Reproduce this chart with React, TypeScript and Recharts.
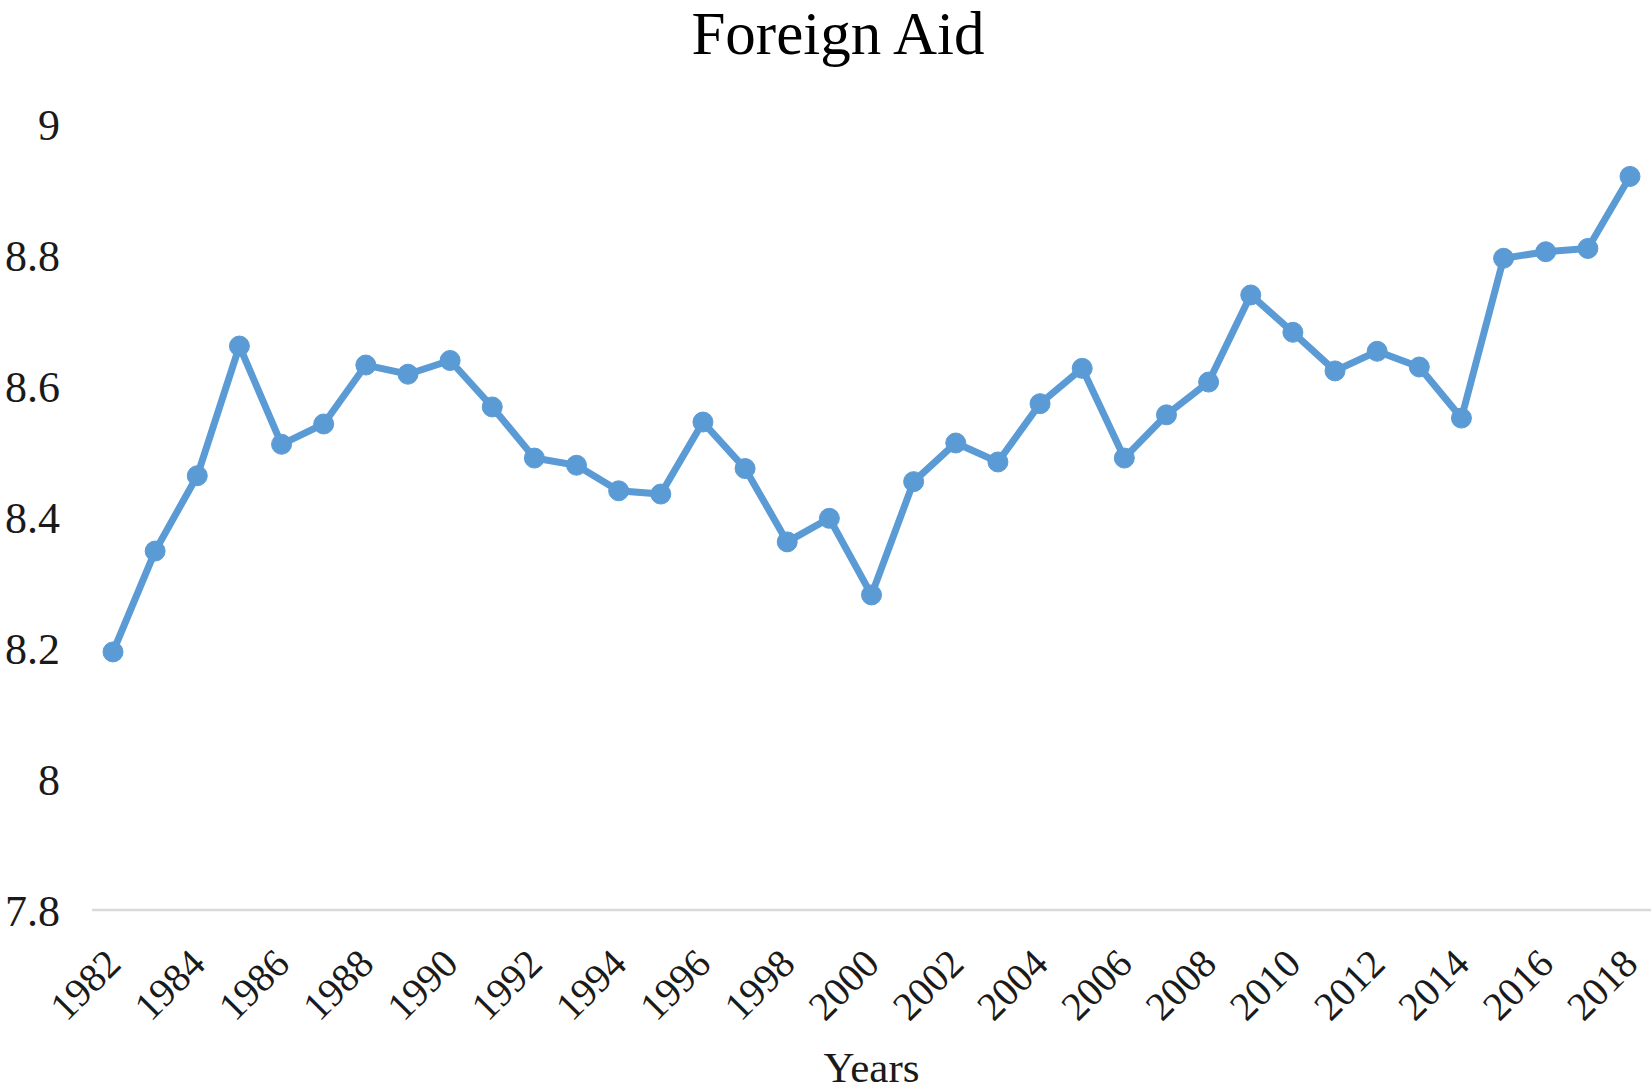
import { LineChart, Line, XAxis, YAxis, Label } from "recharts";

const years = [
  "1982", "1983", "1984", "1985", "1986", "1987", "1988", "1989", "1990", "1991",
  "1992", "1993", "1994", "1995", "1996", "1997", "1998", "1999", "2000", "2001",
  "2002", "2003", "2004", "2005", "2006", "2007", "2008", "2009", "2010", "2011",
  "2012", "2013", "2014", "2015", "2016", "2017", "2018",
];

const foreignAid = [
  8.194, 8.348, 8.463, 8.661, 8.511, 8.542, 8.632, 8.618, 8.639, 8.568,
  8.49, 8.479, 8.44, 8.435, 8.545, 8.474, 8.362, 8.398, 8.281, 8.454,
  8.513, 8.484, 8.573, 8.627, 8.49, 8.556, 8.606, 8.739, 8.682, 8.623,
  8.653, 8.629, 8.551, 8.795, 8.805, 8.81, 8.92,
];

const yTicks = [7.8, 8, 8.2, 8.4, 8.6, 8.8, 9];

const data = years.map((year, i) => ({ year, aid: foreignAid[i] }));

const serif = '"Liberation Serif", "Times New Roman", serif';

const YearTick = (props: any) => {
  const { x, y, payload } = props;
  const ax = x + 10;
  const ay = y + 56;
  return (
    <text
      x={ax}
      y={ay}
      transform={`rotate(-45 ${ax} ${ay})`}
      textAnchor="end"
      fontFamily={serif}
      fontSize={40}
      fill="#1a1a1a"
    >
      {payload.value}
    </text>
  );
};

export default function App() {
  return (
    <div style={{ position: "relative", width: 1652, height: 1092, background: "#fff" }}>
      <style>{`body { margin: 0; }`}</style>
      <div
        style={{
          position: "absolute",
          left: 0,
          top: 6,
          width: 1676,
          textAlign: "center",
          fontFamily: serif,
          fontSize: 61,
          lineHeight: "56px",
          color: "#000",
        }}
      >
        Foreign Aid
      </div>
      <LineChart
        width={1652}
        height={1092}
        data={data}
        margin={{ top: 124, right: 1, left: 0, bottom: 0 }}
      >
        <XAxis
          dataKey="year"
          height={182}
          interval={1}
          padding={{ left: 21, right: 21 }}
          tickLine={false}
          tickSize={0}
          tickMargin={0}
          axisLine={{ stroke: "#d9d9d9", strokeWidth: 2.5 }}
          tick={<YearTick />}
        >
          <Label
            value="Years"
            position="insideBottom"
            offset={10}
            style={{ fontFamily: serif, fontSize: 43, fill: "#1a1a1a" }}
          />
        </XAxis>
        <YAxis
          width={92}
          domain={[7.8, 9]}
          ticks={yTicks}
          axisLine={false}
          tickLine={false}
          tickSize={0}
          tickMargin={32}
          tick={{ fontFamily: serif, fontSize: 44, fill: "#1a1a1a" }}
        />
        <Line
          type="linear"
          dataKey="aid"
          stroke="#5B9BD5"
          strokeWidth={7}
          dot={{ r: 10, fill: "#5B9BD5", stroke: "#5B9BD5", strokeWidth: 1 }}
          isAnimationActive={false}
        />
      </LineChart>
    </div>
  );
}
